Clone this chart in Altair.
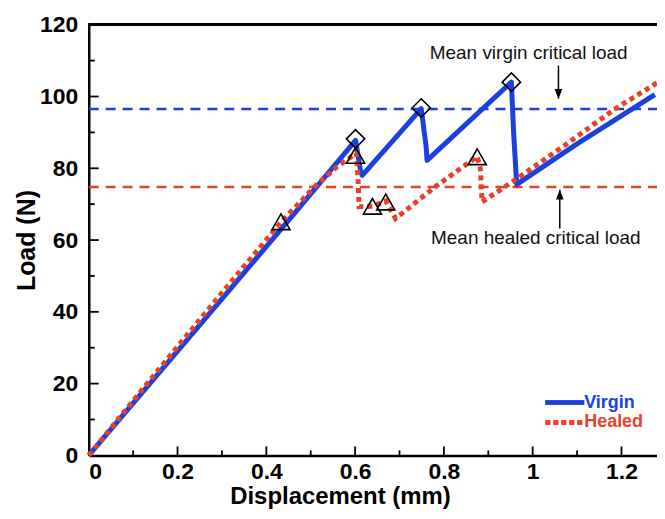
import altair as alt
import pandas as pd

# ---------------- data ----------------
virgin_x = [0.0, 0.15, 0.30, 0.45, 0.601, 0.612, 0.616, 0.749, 0.760, 0.762, 0.952, 0.957, 0.964, 1.10, 1.275]
virgin_y = [0.0, 21.8, 43.6, 65.5, 87.8, 79.5, 78.0, 96.6, 86.0, 82.2, 104.0, 90.0, 75.5, 86.8, 100.5]

healed_x = [0.0, 0.15, 0.30, 0.434, 0.51, 0.56, 0.603, 0.607, 0.609, 0.639, 0.669, 0.691, 0.78, 0.875, 0.882, 0.886, 0.955, 1.07, 1.186, 1.28]
healed_y = [0.0, 22.8, 45.3, 65.1, 75.0, 80.5, 84.2, 76.0, 69.3, 69.4, 70.9, 66.0, 74.8, 83.3, 80.0, 70.6, 76.3, 86.2, 96.6, 103.8]

virgin_peaks_x = [0.601, 0.749, 0.952]
virgin_peaks_y = [88.2, 96.8, 104.0]

healed_peaks_x = [0.433, 0.601, 0.639, 0.669, 0.875]
healed_peaks_y = [65.1, 83.6, 69.4, 70.6, 83.2]

mean_virgin = 96.5
mean_healed = 74.8

x_major = [0.2, 0.4, 0.6, 0.8, 1.0, 1.2]
x_minor = [0.1, 0.3, 0.5, 0.7, 0.9, 1.1]
y_major = [20, 40, 60, 80, 100]
y_minor = [10, 30, 50, 70, 90, 110]

ann_texts = ["Mean virgin critical load", "Mean healed critical load"]
ann_x = [0.991, 1.007]
ann_y = [112.0, 60.6]
arrow_x = [1.058, 1.061]
arrow_from = [108.6, 63.2]
arrow_to = [99.4, 74.0]

legend_labels = ["Virgin", "Healed"]

# ---------------- styling ----------------
W, H = 570, 432
BLUE = "#1c3fe2"
RED = "#e8412b"
FONT = "Liberation Sans"

xs = alt.Scale(domain=[0, 1.28], nice=False, zero=False)
ys = alt.Scale(domain=[0, 120], nice=False)

xaxis = alt.Axis(values=[0, 0.2, 0.4, 0.6, 0.8, 1.0, 1.2], format="~g", ticks=False, grid=False,
                 domainColor="black", domainWidth=2.5, labelFont=FONT, labelFontSize=23,
                 labelFontWeight="bold", labelColor="black", labelPadding=5,
                 title="Displacement (mm)", titleFont=FONT, titleFontSize=24, titleFontWeight="bold",
                 titleColor="black", titleX=252, titleY=41, titleBaseline="middle", titleAlign="center")
yaxis = alt.Axis(values=[0, 20, 40, 60, 80, 100, 120], ticks=False, grid=False,
                 domainColor="black", domainWidth=2.5, labelFont=FONT, labelFontSize=23,
                 labelFontWeight="bold", labelColor="black", labelPadding=11,
                 title="Load (N)", titleFont=FONT, titleFontSize=25, titleFontWeight="bold",
                 titleColor="black", titleX=-62, titleY=H / 2, titleBaseline="middle",
                 titleAlign="center", titleAngle=-90)

vdf = pd.DataFrame({"x": virgin_x, "y": virgin_y, "o": range(len(virgin_x))})
hdf = pd.DataFrame({"x": healed_x, "y": healed_y, "o": range(len(healed_x))})
vpk = pd.DataFrame({"x": virgin_peaks_x, "y": virgin_peaks_y})
hpk = pd.DataFrame({"x": healed_peaks_x, "y": healed_peaks_y})
means = pd.DataFrame({"y": [mean_virgin, mean_healed], "c": [BLUE, RED]})

base_axes = alt.Chart(vdf).mark_line(opacity=0).encode(
    x=alt.X("x:Q", scale=xs, axis=xaxis),
    y=alt.Y("y:Q", scale=ys, axis=yaxis),
)

top_border = alt.Chart(vdf).mark_rule(color="black", strokeWidth=2.5).encode(
    x=alt.value(0), x2=alt.value(W), y=alt.value(0))

mean_lines = alt.Chart(means).mark_rule(strokeWidth=2.5, strokeDash=[10, 7]).encode(
    y=alt.Y("y:Q", scale=ys), x=alt.value(0), x2=alt.value(W),
    color=alt.Color("c:N", scale=None))

virgin_line = alt.Chart(vdf).mark_line(color=BLUE, strokeWidth=5, strokeJoin="round").encode(
    x=alt.X("x:Q", scale=xs), y=alt.Y("y:Q", scale=ys), order="o:Q")

healed_line = alt.Chart(hdf).mark_line(color=RED, strokeWidth=5, strokeDash=[5, 4],
                                       strokeCap="butt").encode(
    x=alt.X("x:Q", scale=xs), y=alt.Y("y:Q", scale=ys), order="o:Q")

vpk_pts = alt.Chart(vpk).mark_point(shape="diamond", size=340, filled=False, color="black",
                                    strokeWidth=1.6, opacity=1).encode(
    x=alt.X("x:Q", scale=xs), y=alt.Y("y:Q", scale=ys))
hpk_pts = alt.Chart(hpk).mark_point(shape="triangle-up", size=330, filled=False, color="black",
                                    strokeWidth=1.6, opacity=1).encode(
    x=alt.X("x:Q", scale=xs), y=alt.Y("y:Q", scale=ys))

ann = pd.DataFrame({"t": ann_texts, "x": ann_x, "y": ann_y})
ann_text = alt.Chart(ann).mark_text(font=FONT, fontSize=19, color="#111", align="center",
                                    baseline="middle").encode(
    x=alt.X("x:Q", scale=xs), y=alt.Y("y:Q", scale=ys), text="t:N")

arr = pd.DataFrame({"x": arrow_x, "y1": arrow_from, "y2": arrow_to,
                    "s": ["M-0.4,-1L0.4,-1L0,0Z", "M-0.4,1L0.4,1L0,0Z"]})
arrow_shaft = alt.Chart(arr).mark_rule(color="black", strokeWidth=1.5).encode(
    x=alt.X("x:Q", scale=xs), y=alt.Y("y1:Q", scale=ys), y2="y2:Q")
arrow_head = alt.Chart(arr).mark_point(filled=True, color="black", size=380, opacity=1).encode(
    x=alt.X("x:Q", scale=xs), y=alt.Y("y2:Q", scale=ys), shape=alt.Shape("s:N", scale=None))

xtm = pd.DataFrame({"v": x_major})
xtn = pd.DataFrame({"v": x_minor})
ytm = pd.DataFrame({"v": y_major})
ytn = pd.DataFrame({"v": y_minor})
xt_major = alt.Chart(xtm).mark_rule(color="black", strokeWidth=1.8).encode(
    x=alt.X("v:Q", scale=xs), y=alt.value(H), y2=alt.value(H - 9))
xt_minor = alt.Chart(xtn).mark_rule(color="black", strokeWidth=1.8).encode(
    x=alt.X("v:Q", scale=xs), y=alt.value(H), y2=alt.value(H - 5))
yt_major = alt.Chart(ytm).mark_rule(color="black", strokeWidth=1.8).encode(
    y=alt.Y("v:Q", scale=ys), x=alt.value(0), x2=alt.value(10))
yt_minor = alt.Chart(ytn).mark_rule(color="black", strokeWidth=1.8).encode(
    y=alt.Y("v:Q", scale=ys), x=alt.value(0), x2=alt.value(6))

# legend (manual)
leg = pd.DataFrame({"t": legend_labels})
leg_blue = alt.Chart(leg).mark_rule(color=BLUE, strokeWidth=4.5).encode(
    x=alt.value(458), x2=alt.value(497), y=alt.value(379))
leg_red = alt.Chart(leg).mark_rule(color=RED, strokeWidth=4.5, strokeDash=[5, 3]).encode(
    x=alt.value(458), x2=alt.value(497), y=alt.value(399))
leg_t1 = alt.Chart(leg).transform_filter("datum.t == 'Virgin'").mark_text(
    font=FONT, fontSize=18, fontWeight="bold", color=BLUE, align="left", baseline="middle").encode(
    x=alt.value(497), y=alt.value(379), text="t:N")
leg_t2 = alt.Chart(leg).transform_filter("datum.t == 'Healed'").mark_text(
    font=FONT, fontSize=18, fontWeight="bold", color=RED, align="left", baseline="middle").encode(
    x=alt.value(497), y=alt.value(399), text="t:N")

chart = alt.layer(
    base_axes, mean_lines, virgin_line, healed_line, vpk_pts, hpk_pts,
    ann_text, arrow_shaft, arrow_head,
    xt_major, xt_minor, yt_major, yt_minor, top_border,
    leg_blue, leg_red, leg_t1, leg_t2,
).properties(
    width=W, height=H,
    autosize=alt.AutoSizeParams(type="none"),
    padding={"left": 81, "top": 16, "right": 0, "bottom": 55},
    background="white",
).configure_view(stroke=None)

chart.save("out.html", embed_options={"renderer": "svg", "actions": False})
